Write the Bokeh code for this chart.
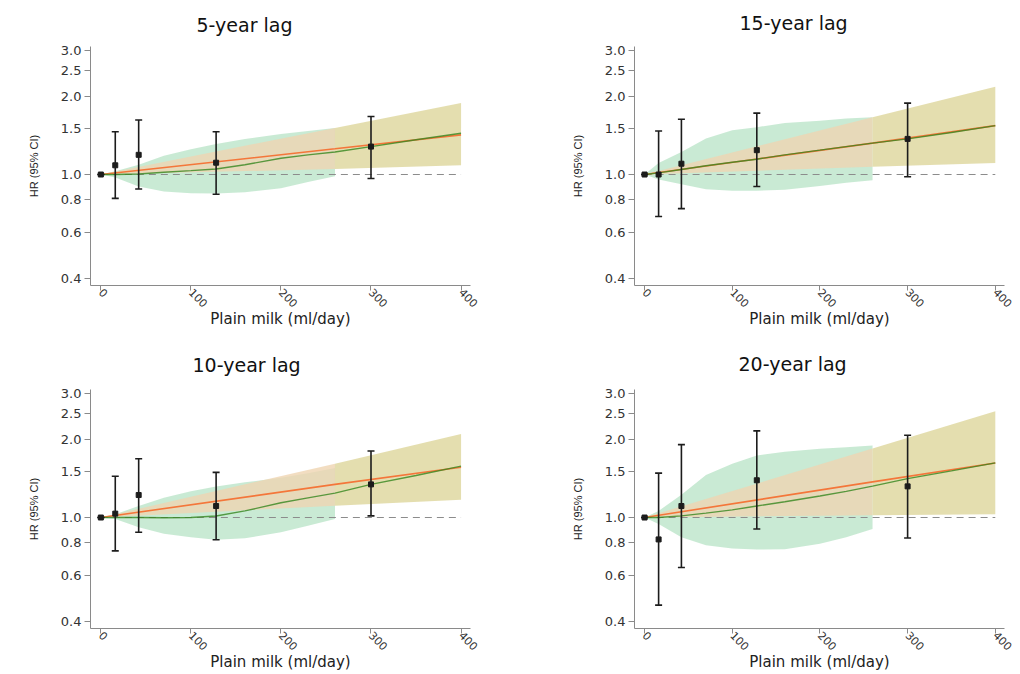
from bokeh.plotting import figure
from bokeh.layouts import row, column
from bokeh.models import (Range1d, FixedTicker, PrintfTickFormatter, Whisker,
                          TeeHead, ColumnDataSource)
from bokeh.embed import file_html
from bokeh.resources import INLINE

# ---- data -----------------------------------------------------------------
panel_titles = ["5-year lag", "15-year lag", "10-year lag", "20-year lag"]

# category medians of plain milk intake (ml/day); 0 is the reference group
cat_x = [0, 16, 42, 128, 300]

lag5_hr = [1.0, 1.085, 1.19, 1.11, 1.28]
lag5_lo = [1.0, 0.81, 0.88, 0.84, 0.966]
lag5_hi = [1.0, 1.46, 1.62, 1.46, 1.67]

lag15_hr = [1.0, 1.0, 1.10, 1.24, 1.37]
lag15_lo = [1.0, 0.69, 0.74, 0.90, 0.98]
lag15_hi = [1.0, 1.47, 1.63, 1.72, 1.88]

lag10_hr = [1.0, 1.035, 1.22, 1.107, 1.34]
lag10_lo = [1.0, 0.745, 0.878, 0.822, 1.015]
lag10_hi = [1.0, 1.44, 1.68, 1.49, 1.80]

lag20_hr = [1.0, 0.824, 1.107, 1.39, 1.317]
lag20_lo = [1.0, 0.461, 0.643, 0.904, 0.834]
lag20_hi = [1.0, 1.48, 1.905, 2.15, 2.07]

# restricted cubic spline fit
spline_x = [0, 16, 42, 70, 100, 128, 160, 200, 230, 260, 300, 350, 400]
lag5_spline = [1.0, 1.0, 1.005, 1.02, 1.035, 1.05, 1.09, 1.155, 1.19, 1.22, 1.28, 1.36, 1.44]
lag15_spline = [1.0, 1.015, 1.045, 1.08, 1.115, 1.145, 1.19, 1.24, 1.28, 1.32, 1.37, 1.45, 1.54]
lag10_spline = [1.0, 1.0, 1.0, 0.998, 1.0, 1.013, 1.06, 1.139, 1.19, 1.24, 1.34, 1.45, 1.575]
lag20_spline = [1.0, 1.0, 1.015, 1.04, 1.07, 1.107, 1.15, 1.21, 1.26, 1.32, 1.41, 1.51, 1.62]

# spline 95% CI
band_x = [0, 16, 42, 70, 100, 128, 160, 200, 230, 260]
lag5_band_lo = [1.0, 0.975, 0.90, 0.86, 0.847, 0.845, 0.855, 0.885, 0.935, 0.985]
lag5_band_hi = [1.0, 1.03, 1.09, 1.18, 1.25, 1.31, 1.37, 1.43, 1.47, 1.51]
lag15_band_lo = [1.0, 0.957, 0.917, 0.878, 0.866, 0.866, 0.874, 0.904, 0.93, 0.95]
lag15_band_hi = [1.0, 1.107, 1.22, 1.375, 1.48, 1.52, 1.575, 1.61, 1.64, 1.66]
lag10_band_lo = [1.0, 0.986, 0.917, 0.866, 0.84, 0.822, 0.832, 0.878, 0.93, 0.986]
lag10_band_hi = [1.0, 1.03, 1.107, 1.19, 1.26, 1.316, 1.365, 1.42, 1.48, 1.55]
lag20_band_lo = [1.0, 0.944, 0.84, 0.782, 0.76, 0.753, 0.755, 0.793, 0.84, 0.904]
lag20_band_hi = [1.0, 1.06, 1.224, 1.456, 1.61, 1.73, 1.79, 1.835, 1.86, 1.89]

# linear trend and its 95% CI
lin_x = [0, 260, 400]
lag5_lin = [1.0, 1.255, 1.42]
lag5_lin_lo = [1.0, 1.05, 1.085]
lag5_lin_hi = [1.0, 1.51, 1.88]
lag15_lin = [1.0, 1.32, 1.54]
lag15_lin_lo = [1.0, 1.07, 1.107]
lag15_lin_hi = [1.0, 1.66, 2.17]
lag10_lin = [1.0, 1.34, 1.56]
lag10_lin_lo = [1.0, 1.11, 1.17]
lag10_lin_hi = [1.0, 1.61, 2.09]
lag20_lin = [1.0, 1.37, 1.62]
lag20_lin_lo = [1.0, 1.02, 1.03]
lag20_lin_hi = [1.0, 1.84, 2.56]

y_ticks = [0.4, 0.6, 0.8, 1.0, 1.5, 2.0, 2.5, 3.0]
x_ticks = [0, 100, 200, 300, 400]

# ---- styling ----------------------------------------------------------------
FONT = "DejaVu Sans"
GREEN_BAND = "#c6e9d2"
PEACH_BAND = "#efd5b2"
OLIVE_BAND = "#e3dcab"
GREEN_LINE = "#35861e"
ORANGE_LINE = "#f4763a"
BAR = "#1c1c1c"
AXIS = "#8a8a8a"


def patch_xy(xs, lo, hi):
    return list(xs) + list(xs)[::-1], list(hi) + list(lo)[::-1]


def make_panel(title, hr, lo, hi, spline, b_lo, b_hi, lin, l_lo, l_hi,
               frame_left, frame_w, top, bottom, title_offset, title_standoff):
    p = figure(width=510, height=337,
               x_range=Range1d(-11.5, 410.5), y_range=Range1d(0.375, 3.1),
               y_axis_type="log", output_backend="svg", toolbar_location=None,
               min_border_left=frame_left, min_border_right=510 - frame_left - frame_w,
               min_border_top=top, min_border_bottom=bottom)
    p.outline_line_color = None
    p.grid.visible = False
    p.background_fill_color = "white"
    p.border_fill_color = "white"

    p.title.text = title
    p.title.align = "left"
    p.title.offset = title_offset
    p.title.vertical_align = "top"
    p.title.standoff = title_standoff
    p.title.text_font = FONT
    p.title.text_font_size = "19px"
    p.title.text_font_style = "normal"
    p.title.text_color = "#111111"

    # spline confidence band
    xs, ys = patch_xy(band_x, b_lo, b_hi)
    p.patch(xs, ys, fill_color=GREEN_BAND, fill_alpha=0.95, line_color=None)
    # linear-trend confidence band
    xs, ys = patch_xy(lin_x[:2], l_lo[:2], l_hi[:2])
    p.patch(xs, ys, fill_color=PEACH_BAND, fill_alpha=0.8, line_color=None)
    xs, ys = patch_xy(lin_x[1:], l_lo[1:], l_hi[1:])
    p.patch(xs, ys, fill_color=OLIVE_BAND, fill_alpha=0.95, line_color=None)

    # null line
    p.segment(x0=[spline_x[0]], y0=[1.0], x1=[spline_x[-1]], y1=[1.0],
              line_color="#8c8c8c", line_dash="7 5", line_width=1.2)

    # fitted curves
    p.line(lin_x, lin, line_color=ORANGE_LINE, line_width=1.6)
    p.line(spline_x, spline, line_color=GREEN_LINE, line_width=1.4, line_alpha=0.8)

    # category estimates with 95% CI
    src = ColumnDataSource(dict(x=cat_x, hr=hr, lo=lo, hi=hi))
    p.add_layout(Whisker(source=src, base="x", lower="lo", upper="hi",
                         line_color=BAR, line_width=1.6, level="overlay",
                         upper_head=TeeHead(size=7, line_color=BAR, line_width=1.6),
                         lower_head=TeeHead(size=7, line_color=BAR, line_width=1.6)))
    p.scatter("x", "hr", source=src, marker="square", size=5,
              fill_color=BAR, line_color=BAR, level="overlay")

    # axes
    for ax in (p.xaxis[0], p.yaxis[0]):
        ax.axis_line_color = AXIS
        ax.major_tick_line_color = AXIS
        ax.minor_tick_line_color = None
        ax.major_tick_out = 6
        ax.major_tick_in = 0
        ax.major_label_text_font = FONT
        ax.major_label_text_color = "#333333"
        ax.axis_label_text_font_style = "normal"
        ax.axis_label_text_color = "#222222"

    p.yaxis.ticker = FixedTicker(ticks=y_ticks)
    p.yaxis.formatter = PrintfTickFormatter(format="%.1f")
    p.yaxis.major_label_text_font_size = "13px"
    p.yaxis.axis_label = "HR (95% CI)"
    p.yaxis.axis_label_text_font = "Liberation Sans"
    p.yaxis.axis_label_text_font_size = "11px"
    p.yaxis.axis_label_standoff = 18
    p.yaxis.major_label_standoff = 3

    p.xaxis.ticker = FixedTicker(ticks=x_ticks)
    p.xaxis.major_tick_out = 5
    p.xaxis.major_label_orientation = -0.8
    p.xaxis.major_label_text_font_size = "11px"
    p.xaxis.major_label_standoff = 0
    p.xaxis.axis_label = "Plain milk (ml/day)"
    p.xaxis.axis_label_text_font = FONT
    p.xaxis.axis_label_text_font_size = "15px"
    p.xaxis.axis_label_standoff = -4
    return p


p5 = make_panel(panel_titles[0], lag5_hr, lag5_lo, lag5_hi, lag5_spline,
                lag5_band_lo, lag5_band_hi, lag5_lin, lag5_lin_lo, lag5_lin_hi,
                90, 380, 43, 52, 106, 18)
p15 = make_panel(panel_titles[1], lag15_hr, lag15_lo, lag15_hi, lag15_spline,
                 lag15_band_lo, lag15_band_hi, lag15_lin, lag15_lin_lo, lag15_lin_hi,
                 124, 370, 46, 49, 105, 21)
p10 = make_panel(panel_titles[2], lag10_hr, lag10_lo, lag10_hi, lag10_spline,
                 lag10_band_lo, lag10_band_hi, lag10_lin, lag10_lin_lo, lag10_lin_hi,
                 90, 380, 49, 46, 102, 24)
p20 = make_panel(panel_titles[3], lag20_hr, lag20_lo, lag20_hi, lag20_spline,
                 lag20_band_lo, lag20_band_hi, lag20_lin, lag20_lin_lo, lag20_lin_hi,
                 124, 370, 52, 43, 104, 25)

layout = column(row(p5, p15, spacing=0), row(p10, p20, spacing=0), spacing=0)

open("out.html", "w").write(file_html(layout, INLINE))
